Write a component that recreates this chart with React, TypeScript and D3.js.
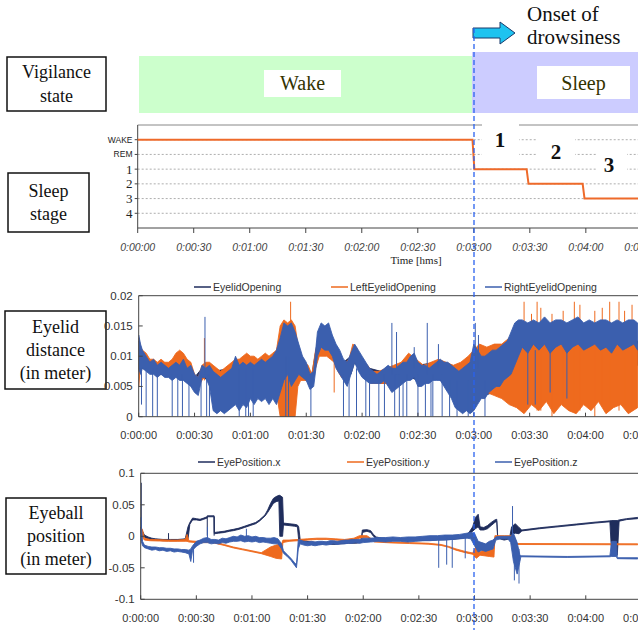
import React from "react";
import * as d3 from "d3";

const W = 638;
const H = 630;

// hypnogram: [seconds, stage index]  (0 = WAKE, 1 = REM, 2..5 = stage 1..4)
const stageLabels = ["WAKE", "REM", "1", "2", "3", "4"];
const hypnogram: [number, number][] = [
  [0, 0], [179.3, 0], [180.3, 2], [208.3, 2], [209.3, 3], [238.3, 3], [239.3, 4], [268, 4],
];
const timeTicks = [0, 30, 60, 90, 120, 150, 180, 210, 240, 270];

// eyelid opening, rows are [seconds, low, high] in mm
const eyelidAvg: number[][] = [
  [0, 7.5, 12.5], [2, 8, 10.5], [6, 7.5, 9], [10, 7, 8.5], [15, 7, 8.5], [20, 7, 9], [25, 6, 8.5],
  [30, 4.5, 6.5], [34, 6.5, 8], [38, 6, 8], [40, 3, 7.5], [50, 3, 8], [60, 4, 9], [70, 4, 9.5],
  [74, 3, 10.5], [76, 3, 12], [80, 3, 13], [84, 4, 12.5], [86, 6.5, 10.5], [90, 6, 8.5], [93, 5, 7],
  [96, 10, 12.5], [98, 12, 13.5], [102, 12, 13.5], [104, 10.5, 12.5], [106, 8.5, 11], [110, 6.5, 9],
  [114, 7, 10], [116, 9, 11.5], [120, 7, 9], [124, 6, 8], [130, 5.5, 7.5], [140, 5.5, 8.5],
  [146, 6.5, 10], [150, 6, 8.5], [160, 6.5, 9], [166, 5, 8.5], [172, 3, 8], [178, 3, 9], [182, 3, 10.5],
  [190, 4, 11], [196, 5, 12], [200, 6, 12.5], [205, 8.5, 12.5], [268, 8.5, 12.5],
];
const eyelidLeft: number[][] = [
  [0, 5, 13], [1, 8.5, 11.5], [2, 8.5, 11], [4, 8.5, 10.5], [6, 8, 9.5], [8, 7.5, 9.5], [10, 7.5, 9],
  [12, 7.5, 9.5], [14, 7.5, 9], [16, 7.5, 9], [18, 7.5, 9.5], [20, 8, 10.5], [22, 8.5, 11], [24, 8, 10.5],
  [26, 7, 9.5], [28, 6.5, 9], [30, 5, 7], [32, 5, 6.5], [34, 6, 8.5], [36, 7, 9], [38, 7.5, 9], [40, 7, 8.5],
  [42, 6.5, 8], [44, 6.5, 7.5], [46, 6.5, 8], [48, 7, 8.5], [50, 7, 9], [52, 7.5, 9.5], [54, 8, 9.5],
  [56, 8, 10], [58, 8.5, 10.5], [60, 8, 10], [62, 7.5, 10], [64, 7, 9.5], [66, 7.5, 10], [68, 7.5, 10.5],
  [70, 7, 10], [72, 6, 10.5], [74, 4, 11], [76, 0, 15], [78, 0, 16], [80, 0, 15.5], [82, 0, 16], [84, 0, 15],
  [85.5, 5, 12], [87, 6, 10.5], [89, 6, 9], [91, 6, 8.5], [93, 5, 7], [95, 8, 11], [97, 10, 12],
  [99, 10, 11.5], [101, 10, 11.5], [103, 9.5, 11.5], [105, 9, 11], [107, 7.5, 10], [109, 6.5, 9.5],
  [111, 7, 9], [113, 7, 9.5], [115, 9, 12], [117, 9, 11.5], [119, 7.5, 10], [121, 7, 9], [123, 6, 8.5],
  [125, 5.5, 7.5], [129, 5.5, 7.5], [133, 5.5, 8], [137, 5, 8.5], [141, 6, 9], [145, 7, 10.5],
  [149, 6.5, 9.5], [153, 6, 8.5], [157, 6.5, 9], [161, 7, 9.5], [165, 6, 9], [169, 5, 8.5], [173, 5, 9],
  [177, 6, 10], [180, 6, 11], [183, 4, 12], [187, 4, 11.5], [191, 3.5, 12], [195, 3, 12], [199, 2, 13],
  [203, 1.5, 12.5], [207, 0.5, 13], [211, 2, 12], [215, 1, 12.5], [219, 2.5, 12], [223, 0.5, 13],
  [227, 2, 12], [231, 1, 12.5], [235, 0.5, 13], [239, 2, 12], [243, 1, 12.5], [247, 2.5, 12],
  [251, 0.5, 13], [255, 1.5, 12.5], [259, 2, 12], [263, 0.5, 12.5], [268, 1.5, 12],
];
const eyelidRight: number[][] = [
  [0, 8, 13.5], [1, 7, 12], [2, 8, 11], [4, 7.5, 10], [6, 7, 9], [8, 7, 9.5], [10, 6.5, 8.5], [12, 7, 9],
  [14, 6.5, 8.5], [16, 6.5, 8], [18, 6, 8.5], [20, 6.5, 9], [22, 6, 8.5], [24, 6, 9.5], [26, 5.5, 8],
  [28, 5, 8.5], [30, 4, 7], [32, 3.5, 6.5], [34, 6.5, 8.5], [36, 6.5, 8], [38, 5, 8.5], [40, 1, 7.5],
  [42, 0.5, 7], [44, 1, 6.5], [46, 0.5, 7], [48, 1, 7.5], [50, 1.5, 8], [52, 2, 10], [54, 1, 8.5],
  [56, 2, 9], [58, 1.5, 8.5], [60, 3, 9], [62, 2, 8.5], [64, 3, 9], [66, 2.5, 9.5], [68, 3, 9],
  [70, 2, 9.5], [72, 3, 10], [74, 2, 11], [76, 4, 13], [78, 6, 15.5], [80, 7, 15], [82, 5, 15.5],
  [84, 6, 14], [86, 7, 12], [88, 6.5, 10], [90, 6, 9], [92, 4.5, 7], [94, 5, 7.5], [96, 10, 14],
  [98, 11.5, 15.5], [100, 11, 15], [102, 11, 15.5], [104, 10, 13.5], [106, 8, 12], [108, 7, 11],
  [110, 6, 9.5], [112, 5, 9], [114, 7, 10.5], [116, 9, 12], [118, 7.5, 11], [120, 6.5, 10], [122, 6, 9],
  [124, 5.5, 8], [126, 5.5, 7.5], [128, 5.5, 7], [130, 5.5, 7.5], [132, 6, 8], [134, 5, 8.5], [136, 4, 8],
  [138, 4.5, 8], [140, 5, 8.5], [142, 5.5, 9], [144, 6, 9], [146, 6, 10], [148, 6.5, 10.5], [150, 5, 9],
  [152, 5, 8.5], [154, 5.5, 8.5], [156, 5.5, 8], [158, 6, 8.5], [160, 6, 9], [162, 6, 9.5], [164, 5, 9],
  [166, 4, 9], [168, 3, 8.5], [170, 1.5, 8], [172, 1, 7.5], [174, 0.5, 8], [176, 1, 8.5], [178, 0.5, 9],
  [180, 1, 12], [182, 2, 11], [184, 3, 10], [186, 3, 10], [188, 4, 10.5], [190, 4.5, 11], [192, 5, 11],
  [194, 5, 11.5], [196, 6, 12], [198, 6.5, 12.5], [200, 7, 14], [202, 8.5, 15.5], [204, 10, 16],
  [206, 11.5, 16], [209, 10.5, 15.5], [212, 12, 16], [215, 11, 15.5], [218, 12, 16.5], [221, 10.5, 15.5],
  [224, 11.5, 16], [227, 12, 16], [230, 10.5, 15.5], [233, 11.5, 16], [236, 12, 16.5], [239, 11, 15.5],
  [242, 11.5, 16], [245, 12, 15.5], [248, 11, 16], [251, 11.5, 16], [254, 10.5, 15.5], [257, 12, 16],
  [260, 11, 15.5], [263, 11.5, 16], [266, 12, 16], [268, 11, 15.5],
];
// spikes: [seconds, from, to] in mm
const eyelidAvgSpikes: number[][] = [
  [77, 4, 12], [79.5, 3, 11], [83, 5, 12], [209, 9, 12.5], [214, 8.5, 12], [220, 9, 12.5], [226, 8.5, 12],
  [233, 9, 12.5], [241, 9, 12], [249, 8.5, 12.5], [256, 9, 12], [262, 9, 12.5],
];
const eyelidLeftSpikes: number[][] = [
  [35.3, 6, 13], [81.6, 0, 19], [105, 4, 9], [124, 4.5, 7], [207, 1, 19], [211, 3, 17], [214, 1, 19],
  [216, 1, 18], [222, 0, 17], [228, 2, 17.5], [234, 1, 19], [237, 1, 18.5], [245, 0, 17.5], [249, 2, 18],
  [253, 1, 19], [258, 1, 19], [261, 2, 17.5], [265, 1, 18.5],
];
const eyelidRightSpikes: number[][] = [
  [1.5, 2, 8], [4, 0, 8], [7.5, 0, 8], [10, 0, 8], [18, 0, 7], [21, 0, 7], [23.5, 0, 7], [27, 0, 6],
  [33.5, 0, 7], [35.6, 7, 16.5], [36.5, 0, 7], [38, 0, 7], [54, 0, 8], [57.5, 0, 8], [59, 0, 8],
  [61.5, 0, 8], [79, 0, 10], [80.5, 0, 10], [92.5, 0, 6], [110, 0, 7], [113, 0, 7], [117, 0, 8],
  [122, 0, 7], [124, 0, 7], [129, 0, 6], [132, 0, 7], [136, 7, 15.5], [137.5, 0, 7], [138.5, 7, 14],
  [140, 0, 7], [142, 0, 6], [144, 0, 7], [148, 8, 11.5], [150, 0, 7], [154, 0, 6], [155, 7, 15.5],
  [157, 0, 6], [158, 0, 7], [161, 8, 12], [163, 0, 7], [167, 0, 6], [171, 0, 6], [177, 0, 6],
  [180.8, 8, 15.5], [182.5, 8, 13.5], [186, 0, 6], [209, 2, 11], [213, 2, 11], [221, 4, 11], [230, 3, 11],
];

// eyeball position, rows are [seconds, low, high] in mm
const eyeX: number[][] = [
  [0, 5, 15], [1, 2, 8], [2, -2, 2], [4, -4, -1], [6, -6, -3], [8, -6, -4], [12, -7, -5], [16, -7, -5],
  [20, -7, -5], [24, -6, -4], [25.5, -5, 15], [26.5, 19, 22], [28, 26, 29], [30, 26, 28], [32, 25, 27],
  [34, 27, 29], [35.8, 29, 31], [35.9, 31, 32.5], [39.6, 31, 32.5], [39.7, 4, 6], [42, 5, 7], [45, 6, 8],
  [48, 8, 10], [50, 9, 11], [53, 11, 13], [56, 14, 16], [59, 17, 19], [62, 20, 22], [64, 24, 26],
  [65.5, 28, 30], [67, 32, 34], [68.5, 38, 42], [70, 45, 52], [71.5, 52, 60], [73, 55, 63], [74.5, 56, 65],
  [75, 0, 65], [76.5, 0, 62], [77, 18, 21], [80, 17, 20], [83, 16, 19], [84.5, 15, 18], [85.2, -6, 15],
  [86, -7, -5], [88, -10, -7], [92, -12, -9], [96, -13, -10], [100, -12, -9], [104, -13, -10],
  [108, -12, -9], [112, -11, -8], [116, -11, -7], [119, -10, -6], [119.5, 6, 10], [122, 8, 10.5],
  [124, 6, 9], [125.5, 0, 3], [127, -4, -1], [130, -6, -3], [140, -7, -4], [150, -7, -4], [160, -6, -3],
  [168, -5, -2], [174, -3, 0], [177, 2, 6], [179, 8, 15], [180.5, 12, 30], [182, 15, 35], [183, 10, 15],
  [185, 10, 14], [187, 12, 17], [189, 17, 22], [191, 22, 26], [192, 24, 27], [192.5, -3, 0], [196, -6, -3],
  [199, -4, -1], [200, 3, 15], [202, 5, 20], [204, 4, 14], [205.5, 8.5, 10], [215, 12, 13.5],
  [225, 15, 16.5], [235, 18, 19.5], [245, 21, 22.5], [253, 23, 24.5], [254, -30, 25], [257, -30, 25],
  [258, 24, 26], [262, 26.5, 28], [268, 28, 30],
];
const eyeY: number[][] = [
  [0, 8, 15], [1, -2, 10], [2, -6, -3], [5, -7, -5], [10, -7.5, -5.5], [15, -8, -6], [20, -8, -6],
  [24, -8, -5], [25, -8, 3], [26, -9, -7], [30, -10, -8], [35, -10, -8], [38, -10, -7], [40, -11, -9],
  [45, -14.5, -13], [50, -18.5, -17], [55, -21.5, -20], [60, -24.5, -23], [65, -27.5, -26],
  [70, -32, -17], [73, -35, -14], [76, -36, -12], [76.7, -10, -6], [80, -8, -6], [85, -7, -5],
  [90, -6, -4], [95, -5, -3], [100, -5, -3], [105, -6, -4], [110, -7, -5], [115, -6, -3], [118, -3, 1],
  [122, -2, 1], [124, -5, -3], [126, -9, -7], [135, -10.5, -9], [145, -11.5, -10], [155, -12.5, -11],
  [162, -14.5, -13], [166, -17.5, -16], [170, -22, -20], [175, -26, -24], [179, -28.5, -26.5],
  [181, -35, -15], [183, -30, -25], [188, -32, -15], [190.5, -33, -20], [191, -2, 1], [196, -1, 1],
  [200, -1, 1], [201, -13, 1], [203, -13, -11.5], [268, -13.5, -12],
];
const eyeZ: number[][] = [
  [0, -5, 30], [1, -15, -8], [2, -18, -14], [4, -20, -16], [6, -22, -17], [8, -21, -17], [10, -23, -18],
  [12, -22, -18], [14, -24, -19], [16, -23, -19], [18, -25, -20], [20, -24, -20], [22, -25, -21],
  [24, -26, -21], [26, -28, -22], [27, -40, -20], [28, -22, -15], [30, -16, -8], [32, -12, -6],
  [34, -10, -3], [36, -10, -2], [38, -12, -5], [40, -11, -5], [42, -12, -6], [44, -10, -3], [46, -11, -4],
  [48, -9, -2], [50, -8, 0], [52, -8, -1], [54, -7, 2], [56, -9, 0], [58, -8, 1], [60, -9, -1],
  [62, -8, 0], [64, -10, -2], [66, -9, -2], [68, -10, -3], [70, -11, -3], [72, -12, -2], [74, -12, -4],
  [76, -20, -12], [77, -27, -23], [79, -32, -29], [81, -38, -35], [83, -46, -42], [84, -50, -45],
  [85, -20, -5], [86, -12, -6], [88, -14, -8], [90, -15, -9], [92, -14, -8], [94, -15, -9], [96, -14, -8],
  [98, -13, -8], [100, -14, -9], [102, -13, -7], [104, -12, -7], [106, -13, -8], [108, -12, -7],
  [110, -12, -6], [112, -11, -6], [114, -11, -5], [116, -10, -5], [118, -11, -5], [120, -10, -3],
  [124, -9, -3], [128, -8, -2], [132, -9, -2], [136, -8, -1], [140, -8, -2], [144, -9, -1], [148, -8, -1],
  [152, -7, 0], [156, -7, 1], [160, -6, 1], [164, -6, 2], [168, -5, 2], [172, -4, 3], [176, -3, 5],
  [178, -4, 6], [180, -15, 5], [182, -25, -8], [184, -22, -10], [186, -24, -12], [188, -22, -8],
  [190, -20, -6], [191.5, -6, -1], [194, -4, 0], [198, -4, 0], [199.5, -10, 0], [201, -40, 5],
  [203, -60, -10], [204.5, -40, -30], [205, -32.5, -31], [230, -33.5, -32], [253, -32.5, -31],
  [254, -32, -8], [256.5, -32, -8], [257, -35.5, -34], [268, -36, -34],
];
const eyeXSpikes: number[][] = [[0.3, 0, 85], [15, -5, 5], [35.9, 1, 31], [39.6, 1, 31]];
const eyeZSpikes: number[][] = [
  [0.3, -5, 30], [28.5, -42, -20], [36, -5, 15], [57, -5, 12], [160.7, -50, 0], [165, -45, 0],
  [168, -50, 0], [175, -35, 0], [200.5, 0, 48], [201.5, -70, 0], [204, -75, -20],
];

const eyelidTicks = [0, 0.005, 0.01, 0.015, 0.02];
const eyeballTicks = [-0.1, -0.05, 0, 0.05, 0.1];

const eyelidSeries = ["EyelidOpening", "LeftEyelidOpening", "RightEyelidOpening"];
const eyeballSeries = ["EyePosition.x", "EyePosition.y", "EyePosition.z"];
const seriesColors = ["#1f2d5c", "#ee6a1e", "#3b5fae"];

const fmtTime = (s: number) =>
  `0:${String(Math.floor(s / 60)).padStart(2, "0")}:${String(s % 60).padStart(2, "0")}`;

const NARROW = "'Liberation Sans Narrow', 'Arial Narrow', sans-serif";
const SERIF = "'Liberation Serif', 'Times New Roman', serif";

function LabelBox({ x, y, w, h, lines, size = 18 }: any) {
  const lh = size * 1.3;
  const y0 = y + h / 2 - ((lines.length - 1) * lh) / 2 + size * 0.33;
  return (
    <g>
      <rect x={x} y={y} width={w} height={h} fill="white" stroke="#111" strokeWidth={1.5} />
      {lines.map((l: string, i: number) => (
        <text key={i} x={x + w / 2} y={y0 + i * lh} textAnchor="middle" fontFamily={SERIF} fontSize={size} fill="#111">
          {l}
        </text>
      ))}
    </g>
  );
}

function SignalChart({ id, x0, x180, top, bottom, domain, ticks, fmtY, names, bands, spikes, legendY, legendX, labelY }: any) {
  const x = d3.scaleLinear().domain([0, 180]).range([x0, x180]);
  const y = d3.scaleLinear().domain(domain).range([bottom, top]);
  const area = d3
    .area<number[]>()
    .x((d) => x(d[0]))
    .y0((d) => y(d[1] / 1000))
    .y1((d) => y(d[2] / 1000));
  return (
    <g>
      <defs>
        <clipPath id={id}>
          <rect x={x0} y={top} width={W - x0} height={bottom - top} />
        </clipPath>
      </defs>
      <g clipPath={`url(#${id})`}>
        {bands.map((b: number[][], i: number) => (
          <g key={i}>
            <path d={area(b) || ""} fill={seriesColors[i]} stroke={seriesColors[i]} strokeWidth={0.9} strokeLinejoin="round" />
            {spikes[i].map((d: number[], j: number) => (
              <line key={j} x1={x(d[0])} x2={x(d[0])} y1={y(d[1] / 1000)} y2={y(d[2] / 1000)} stroke={seriesColors[i]} strokeWidth={1} />
            ))}
          </g>
        ))}
      </g>
      <line x1={x0} x2={W} y1={top} y2={top} stroke="#444" />
      <line x1={x0} x2={W} y1={bottom} y2={bottom} stroke="#444" />
      <line x1={x0} x2={x0} y1={top} y2={bottom} stroke="#444" />
      {ticks.map((t: number) => (
        <g key={t}>
          <line x1={x0} x2={x0 + 4} y1={y(t)} y2={y(t)} stroke="#444" />
          <text x={x0 - 6} y={y(t) + 4} textAnchor="end" fontFamily={NARROW} fontSize={11.5} fill="#333">
            {fmtY(t)}
          </text>
        </g>
      ))}
      {timeTicks.map((t) => (
        <g key={t}>
          <line x1={x(t)} x2={x(t)} y1={bottom} y2={bottom - 4} stroke="#444" />
          <text x={x(t)} y={labelY} textAnchor="middle" fontFamily={NARROW} fontSize={11} fill="#333">
            {fmtTime(t)}
          </text>
        </g>
      ))}
      {names.map((n: string, i: number) => (
        <g key={n}>
          <line x1={legendX[i]} x2={legendX[i] + 17} y1={legendY} y2={legendY} stroke={seriesColors[i]} strokeWidth={1.5} />
          <text x={legendX[i] + 19} y={legendY + 3.5} fontFamily={NARROW} fontSize={10.5} fill="#333">
            {n}
          </text>
        </g>
      ))}
    </g>
  );
}

export default function App() {
  // sleep stage panel
  const xs = d3.scaleLinear().domain([0, 180]).range([137.7, 473.8]);
  const ys = d3.scaleLinear().domain([-1, 6]).range([125, 228]);
  const stageLine = d3
    .line<[number, number]>()
    .x((d) => xs(d[0]))
    .y((d) => ys(d[1]));
  const onsetX = 474;

  return (
    <div style={{ position: "fixed", left: 0, top: 0 }}>
      <svg width={W} height={H} viewBox={`0 0 ${W} ${H}`} style={{ display: "block", background: "white" }}>
        {/* vigilance state */}
        <LabelBox x={7} y={57} w={99} h={54} lines={["Vigilance", "state"]} />
        <rect x={139} y={56} width={333} height={57} fill="#ccffcc" />
        <rect x={472} y={52} width={W - 472} height={61} fill="#ccccff" />
        <rect x={264} y={70} width={77} height={27} fill="white" />
        <text x={302.5} y={90} textAnchor="middle" fontFamily={SERIF} fontSize={20} fill="#333300">Wake</text>
        <rect x={537} y={66} width={93} height={33} fill="white" />
        <text x={583.5} y={90} textAnchor="middle" fontFamily={SERIF} fontSize={20} fill="#333300">Sleep</text>
        <polygon
          points="473,28 500,28 500,22 515,33 500,44 500,38 473,38"
          fill="#1ec3f0"
          stroke="#1b3b6b"
          strokeWidth={1}
        />
        <text x={527} y={21} fontFamily={SERIF} fontSize={21} fill="#111">Onset of</text>
        <text x={527} y={44} fontFamily={SERIF} fontSize={21} fill="#111">drowsiness</text>

        {/* sleep stage */}
        <LabelBox x={8} y={173} w={81} h={59} lines={["Sleep", "stage"]} />
        {stageLabels.map((s, i) => (
          <g key={s}>
            <line x1={xs(0)} x2={W} y1={ys(i)} y2={ys(i)} stroke="#999" strokeDasharray="2,2" strokeWidth={0.8} />
            <line x1={xs(0) - 3} x2={xs(0)} y1={ys(i)} y2={ys(i)} stroke="#444" />
            <text
              x={132.5}
              y={ys(i) + (i < 2 ? 3 : 4.5)}
              textAnchor="end"
              fontFamily={i < 2 ? NARROW : SERIF}
              fontSize={i < 2 ? 8.5 : 13}
              fill="#222"
            >
              {s}
            </text>
          </g>
        ))}
        <line x1={xs(0)} x2={W} y1={125} y2={125} stroke="#888" />
        <line x1={xs(0)} x2={xs(0)} y1={125} y2={228} stroke="#444" />
        <line x1={xs(0)} x2={W} y1={228} y2={228} stroke="#444" />
        {timeTicks.map((t) => (
          <g key={t}>
            <line x1={xs(t)} x2={xs(t)} y1={228} y2={233} stroke="#444" />
            <text x={xs(t)} y={251} textAnchor="middle" fontFamily="'Liberation Sans', Arial, sans-serif" fontStyle="italic" fontSize={10.5} fill="#444">
              {fmtTime(t)}
            </text>
          </g>
        ))}
        <text x={416} y={264} textAnchor="middle" fontFamily={SERIF} fontSize={11} fill="#222">Time [hms]</text>
        <path d={stageLine(hypnogram) || ""} fill="none" stroke="#ee6a2a" strokeWidth={2} />
        <circle cx={598} cy={144} r={1} fill="#ee6a2a" />
        <rect x={482} y={118} width={37} height={42} fill="white" />
        <rect x={537} y={130} width={38} height={36} fill="white" />
        <rect x={597} y={143} width={30} height={37} fill="white" />
        <text x={500} y={147} textAnchor="middle" fontFamily={SERIF} fontWeight="bold" fontSize={21} fill="#111">1</text>
        <text x={556} y={159} textAnchor="middle" fontFamily={SERIF} fontWeight="bold" fontSize={21} fill="#111">2</text>
        <text x={609} y={172} textAnchor="middle" fontFamily={SERIF} fontWeight="bold" fontSize={21} fill="#111">3</text>

        {/* eyelid */}
        <LabelBox x={5} y={311} w={101} h={78} lines={["Eyelid", "distance", "(in meter)"]} />
        <SignalChart
          id="clipEyelid"
          x0={138.7}
          x180={473.8}
          top={295.7}
          bottom={416.7}
          domain={[0, 0.02]}
          ticks={eyelidTicks}
          fmtY={(v: number) => (v === 0 ? "0" : String(+v.toFixed(3)))}
          names={eyelidSeries}
          bands={[eyelidAvg, eyelidLeft, eyelidRight]}
          spikes={[eyelidAvgSpikes, eyelidLeftSpikes, eyelidRightSpikes]}
          legendY={287}
          legendX={[194, 331, 485]}
          labelY={439}
        />

        {/* eyeball */}
        <LabelBox x={6} y={498} w={100} h={76} lines={["Eyeball", "position", "(in meter)"]} />
        <SignalChart
          id="clipEyeball"
          x0={140.7}
          x180={474.5}
          top={473.3}
          bottom={599.3}
          domain={[-0.1, 0.1]}
          ticks={eyeballTicks}
          fmtY={(v: number) => (v === 0 ? "0" : String(+v.toFixed(2)))}
          names={eyeballSeries}
          bands={[eyeX, eyeY, eyeZ]}
          spikes={[eyeXSpikes, [], eyeZSpikes]}
          legendY={462}
          legendX={[198, 347, 495]}
          labelY={622}
        />

        <line x1={onsetX} x2={onsetX} y1={28} y2={H} stroke="#2a62ee" strokeWidth={1.3} strokeDasharray="5,3" />
      </svg>
    </div>
  );
}
